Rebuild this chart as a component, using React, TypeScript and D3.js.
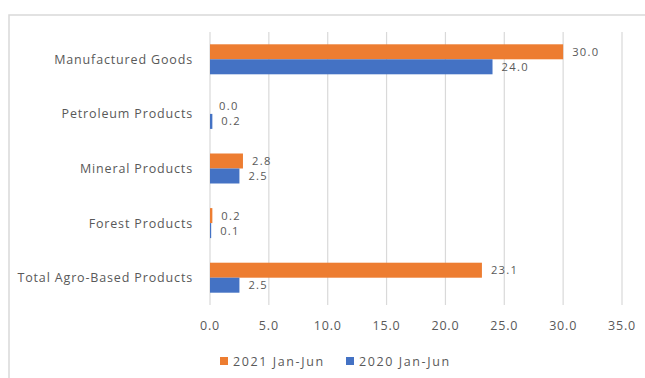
import React from "react";
import * as d3 from "d3";

const categories = [
  "Manufactured Goods",
  "Petroleum Products",
  "Mineral Products",
  "Forest Products",
  "Total Agro-Based Products",
];
const values2021 = [30.0, 0.0, 2.8, 0.2, 23.1];
const values2020 = [24.0, 0.2, 2.5, 0.1, 2.5];
const xTicks = [0, 5, 10, 15, 20, 25, 30, 35];
const seriesNames = ["2021 Jan-Jun", "2020 Jan-Jun"];
const seriesColors = ["#ED7D31", "#4472C4"];

export default function App() {
  const W = 645, H = 378;
  const x = d3.scaleLinear().domain([0, 35]).range([210, 622]);
  const y = d3.scaleBand<string>().domain(categories).range([32, 305]);
  const barH = 15;
  const font = "'Open Sans', 'Liberation Sans', sans-serif";
  const textColor = "#595959";
  const fs = 12.5;
  const series = [values2021, values2020];
  return (
    <svg width={W} height={H} style={{ position: "fixed", left: 0, top: 0, background: "#fff" }}>
      <rect x={9} y={15} width={700} height={400} fill="#fff" stroke="#D9D9D9" strokeWidth={1.5} />
      {xTicks.map((t) => (
        <g key={t}>
          <line x1={x(t)} x2={x(t)} y1={32} y2={305} stroke="#D9D9D9" strokeWidth={1.2} />
          <text x={x(t)} y={330} textAnchor="middle" fontSize={fs} letterSpacing={0.8} fill={textColor} fontFamily={font}>
            {d3.format(".1f")(t)}
          </text>
        </g>
      ))}
      {categories.map((c, i) => {
        const cy = (y(c) as number) + y.bandwidth() / 2;
        return (
          <g key={c}>
            <text x={193} y={cy + 4.5} textAnchor="end" fontSize={fs} letterSpacing={0.85} fill={textColor} fontFamily={font}>
              {c}
            </text>
            {series.map((s, k) => {
              const by = cy - barH + k * barH;
              return (
                <g key={k}>
                  <rect x={x(0)} y={by} width={x(s[i]) - x(0)} height={barH} fill={seriesColors[k]} />
                  <text x={x(s[i]) + 9} y={by + barH / 2 + 4} fontSize={11.2} letterSpacing={1.3} fill={textColor} fontFamily={font}>
                    {d3.format(".1f")(s[i])}
                  </text>
                </g>
              );
            })}
          </g>
        );
      })}
      {seriesNames.map((n, k) => {
        const lx = [220, 346][k];
        return (
          <g key={n}>
            <rect x={lx} y={357} width={8} height={8} fill={seriesColors[k]} />
            <text x={lx + 13} y={365.5} fontSize={fs} letterSpacing={1.6} fill={textColor} fontFamily={font}>
              {n}
            </text>
          </g>
        );
      })}
    </svg>
  );
}
